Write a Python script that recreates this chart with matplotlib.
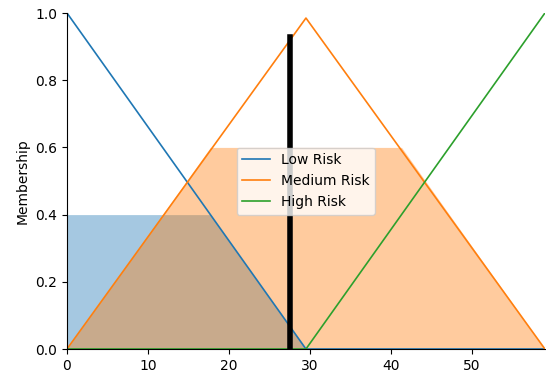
import numpy as np
import matplotlib
matplotlib.use("Agg")
import matplotlib.pyplot as plt

# membership breakpoints
x_low = [0, 29.5, 59]
y_low = [1.0, 0.0, 0.0]

x_med = [0, 29.5, 59]
y_med = [0.0, 0.985, 0.0]

x_high = [0, 29.5, 59]
y_high = [0.0, 0.0, 1.0]

# clipped (activated) areas
fill_low_x = [0, 17.7, 29.5]
fill_low_y = [0.4, 0.4, 0.0]

fill_med_x = [0, 17.7, 41.3, 59]
fill_med_y = [0.0, 0.6, 0.6, 0.0]

# current input value
cut_x = 27.5
cut_top = 0.93

fig = plt.figure(figsize=(5.46, 3.76), dpi=100)
ax = fig.add_subplot(1, 1, 1)
fig.subplots_adjust(left=0.1227, right=0.998, top=0.9654, bottom=0.0718)

ax.fill_between(fill_low_x, 0, fill_low_y, color='C0', alpha=0.4, linewidth=0)
ax.fill_between(fill_med_x, 0, fill_med_y, color='C1', alpha=0.4, linewidth=0)

ax.plot(x_low, y_low, color='C0', linewidth=1.2, label='Low Risk')
ax.plot(x_med, y_med, color='C1', linewidth=1.2, label='Medium Risk')
ax.plot(x_high, y_high, color='C2', linewidth=1.2, label='High Risk')

ax.plot([cut_x, cut_x], [0, cut_top], color='black', linewidth=4)

ax.set_xlim(0, 59)
ax.set_ylim(0, 1.0)
ax.set_ylabel('Membership')
ax.legend(loc='center')

ax.spines['top'].set_visible(False)
ax.spines['right'].set_visible(False)
ax.get_xaxis().tick_bottom()
ax.get_yaxis().tick_left()

plt.savefig('out.png', dpi=100)
